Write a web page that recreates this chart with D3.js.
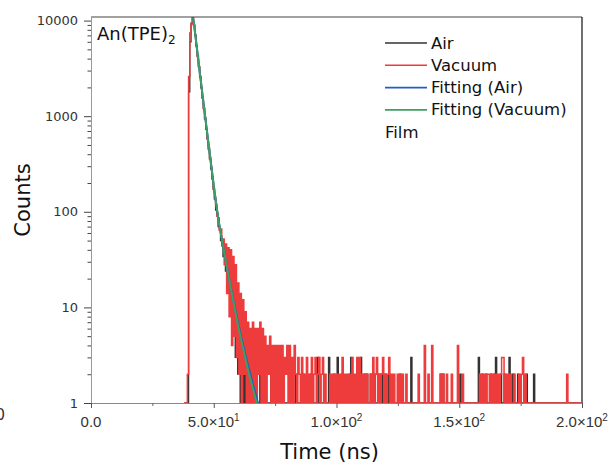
<!DOCTYPE html>
<html>
<head>
<meta charset="utf-8">
<script src="https://cdn.jsdelivr.net/npm/d3@7"></script>
<style>
  body { margin: 0; background: #fff; }
  svg { display: block; font-family: "DejaVu Sans", sans-serif; }
</style>
</head>
<body>
<div class="chart"></div>
<script>
// channel time of the first bin and bin width (ns)
var tStart = 38;
var tStep = 0.5;

// decay histogram, Air (counts per bin)
var airCounts = [
  0, 0, 0, 0, 1800, 6000, 9400, 10800, 9000, 7100, 5500, 4300, 3300, 2550, 1980, 1540, 1200, 930, 730, 575,
  450, 355, 280, 220, 172, 136, 104, 96, 70, 66, 50, 48, 34, 36, 24, 26, 16, 18, 9, 14,
  6, 10, 3, 7, 2, 6, 0, 4, 1, 3, 0, 2, 1, 3, 0, 2, 1, 0, 2, 0,
  1, 0, 2, 1, 0, 1, 2, 0, 1, 0, 1, 2, 0, 1, 0, 3, 0, 1, 0, 1,
  0, 2, 1, 0, 1, 0, 2, 0, 1, 0, 1, 2, 0, 1, 0, 1, 0, 2, 0, 1,
  0, 1, 0, 2, 1, 0, 1, 0, 0, 3, 1, 0, 1, 0, 0, 1, 0, 1, 3, 0,
  1, 0, 2, 0, 1, 3, 0, 1, 0, 2, 1, 0, 1, 0, 0, 2, 3, 0, 1, 0,
  1, 0, 2, 0, 3, 0, 1, 2, 0, 2, 1, 0, 2, 0, 1, 2, 0, 1, 0, 2,
  0, 2, 1, 0, 2, 0, 1, 2, 0, 1, 1, 0, 1, 0, 0, 1, 2, 0, 1, 0,
  1, 0, 0, 1, 0, 3, 0, 1, 0, 1, 1, 0, 0, 1, 0, 1, 0, 0, 1, 0,
  0, 1, 0, 1, 0, 1, 0, 1, 0, 2, 1, 2, 0, 1, 0, 1, 0, 0, 1, 0,
  1, 0, 0, 1, 0, 2, 1, 0, 1, 0, 0, 1, 0, 1, 0, 0, 1, 0, 1, 0,
  3, 0, 1, 2, 0, 1, 2, 0, 1, 0, 2, 1, 0, 2, 3, 0, 1, 0, 2, 0,
  1, 2, 0, 1, 0, 3, 0, 1, 2, 0, 1, 0, 2, 0, 1, 0, 1, 0, 0, 2,
  0, 1, 0, 1, 0, 2, 0, 1, 0, 1, 1, 0, 1, 0, 1, 0, 0, 1, 0, 1,
  0, 1, 0, 0, 1, 0, 1, 1, 0, 1, 0, 0, 1, 1, 0, 1, 0, 1, 1, 0,
  1, 0, 1, 1
];

// decay histogram, Vacuum
var vacuumCounts = [
  0, 0, 0, 2, 2600, 7400, 9200, 10600, 8900, 7000, 5400, 4200, 3300, 2600, 2000, 1570, 1220, 960, 750, 590,
  470, 370, 290, 232, 180, 142, 120, 90, 86, 64, 66, 44, 52, 28, 46, 14, 42, 8, 40, 4,
  34, 5, 28, 3, 18, 2, 14, 0, 12, 2, 9, 0, 7, 1, 6, 0, 7, 1, 6, 0,
  6, 2, 7, 0, 6, 1, 5, 0, 4, 2, 5, 0, 4, 1, 4, 0, 4, 0, 4, 1,
  4, 0, 3, 2, 4, 0, 4, 1, 3, 0, 4, 2, 0, 3, 2, 0, 3, 0, 2, 0,
  3, 0, 2, 0, 3, 0, 2, 3, 0, 2, 3, 0, 2, 3, 0, 2, 0, 1, 0, 2,
  0, 2, 0, 2, 0, 2, 0, 2, 0, 3, 0, 2, 0, 2, 0, 2, 0, 3, 0, 2,
  0, 3, 0, 3, 0, 2, 0, 2, 0, 2, 1, 0, 2, 0, 3, 0, 2, 3, 0, 2,
  0, 2, 3, 0, 2, 0, 2, 3, 0, 2, 0, 2, 1, 0, 2, 0, 2, 0, 2, 0,
  1, 2, 0, 1, 0, 1, 0, 1, 0, 0, 1, 2, 0, 1, 0, 0, 4, 0, 0, 2,
  0, 1, 4, 0, 1, 0, 0, 1, 0, 2, 0, 2, 1, 0, 2, 0, 1, 0, 2, 0,
  1, 0, 1, 4, 0, 1, 0, 2, 0, 1, 0, 0, 1, 0, 0, 1, 0, 1, 0, 1,
  0, 2, 0, 2, 1, 2, 0, 2, 2, 0, 2, 1, 2, 0, 2, 1, 2, 0, 2, 3,
  3, 0, 2, 1, 2, 0, 2, 1, 0, 2, 0, 1, 0, 2, 1, 2, 3, 0, 2, 0,
  1, 0, 1, 0, 0, 1, 0, 0, 1, 0, 0, 1, 0, 1, 0, 0, 1, 0, 0, 1,
  0, 0, 1, 0, 1, 0, 0, 1, 0, 0, 1, 0, 2, 0, 1, 0, 0, 1, 0, 0,
  1, 0, 0, 1
];

// fitted decays
var fitTime = [41.5, 42, 43, 44, 45, 46, 47, 48, 49, 50, 51, 52, 53, 54, 55, 56, 57, 58, 59, 60,
  61, 62, 63, 64, 65, 66, 67, 68, 69, 70];
var fitAir = [10800, 9000, 5500, 3350, 2050, 1260, 780, 485, 300, 188, 120, 80, 57, 41, 29.5, 21.7, 16, 11.8, 8.9, 6.7,
  5.1, 4.0, 3.1, 2.45, 1.95, 1.55, 1.25, 1.0, 0.82, 0.67];
var fitVacuum = [10800, 9000, 5500, 3350, 2050, 1260, 780, 485, 300, 188, 120, 80, 57, 41, 29.5, 21.5, 15.6, 11.5, 8.5, 6.3,
  4.8, 3.7, 2.85, 2.2, 1.75, 1.4, 1.12, 0.9, 0.73, 0.6];

// axes
var xTickValues = [0, 50, 100, 150, 200];
var xTickLabels = ["0.0", "5.0×10^1", "1.0×10^2", "1.5×10^2", "2.0×10^2"];
var xMinorValues = [25, 75, 125, 175];
var yTickValues = [1, 10, 100, 1000, 10000];
var yTickLabels = ["1", "10", "100", "1000", "10000"];

var legendNames = ["Air", "Vacuum", "Fitting (Air)", "Fitting (Vacuum)"];
var legendColors = ["#333333", "#ee3b3b", "#1f5fbf", "#3f9f62"];

var svgWidth = 610, svgHeight = 466;
var margin = { top: 17, right: 28, bottom: 63, left: 91 };
var width = svgWidth - margin.left - margin.right;
var height = svgHeight - margin.top - margin.bottom;

var svg = d3.select(".chart").append("svg")
  .attr("width", svgWidth)
  .attr("height", svgHeight);

var xScale = d3.scaleLinear().domain([0, 200]).range([margin.left, margin.left + width]);
var yScale = d3.scaleLog().domain([1, 10900]).range([margin.top + height, margin.top]);

svg.append("clipPath").attr("id", "plotClip")
  .append("rect")
  .attr("x", margin.left).attr("y", margin.top)
  .attr("width", width).attr("height", height);

var plot = svg.append("g").attr("clip-path", "url(#plotClip)");

// raw histograms drawn as steps so that dense low-count bins fill in
function rawLine(counts) {
  return d3.line()
    .curve(d3.curveStep)
    .x((d, i) => xScale(tStart + i * tStep))
    .y(d => yScale(Math.max(d, 1)))(counts);
}

plot.append("path").attr("d", rawLine(airCounts))
  .attr("fill", "none").attr("stroke", legendColors[0]).attr("stroke-width", 1.3);
plot.append("path").attr("d", rawLine(vacuumCounts))
  .attr("fill", "none").attr("stroke", legendColors[1]).attr("stroke-width", 1.5);

var fitLine = d3.line()
  .x(d => xScale(d[0]))
  .y(d => yScale(d[1]));

plot.append("path").attr("d", fitLine(fitTime.map((t, i) => [t, fitAir[i]])))
  .attr("fill", "none").attr("stroke", legendColors[2]).attr("stroke-width", 2);
plot.append("path").attr("d", fitLine(fitTime.map((t, i) => [t, fitVacuum[i]])))
  .attr("fill", "none").attr("stroke", legendColors[3]).attr("stroke-width", 2);

// frame top / right
svg.append("line")
  .attr("x1", margin.left).attr("x2", margin.left + width)
  .attr("y1", margin.top).attr("y2", margin.top)
  .attr("stroke", "#444").attr("stroke-width", 1.2);
svg.append("line")
  .attr("x1", margin.left + width).attr("x2", margin.left + width)
  .attr("y1", margin.top).attr("y2", margin.top + height)
  .attr("stroke", "#111").attr("stroke-width", 1.2);

// y axis: minor then major ticks
var yMinor = [];
yTickValues.slice(0, -1).forEach(function(v) {
  for (var k = 2; k <= 9; k++) yMinor.push(v * k);
});
svg.append("g")
  .attr("transform", `translate(${margin.left},0)`)
  .call(d3.axisLeft(yScale).tickValues(yMinor).tickSize(3.5).tickSizeOuter(0).tickFormat(""))
  .call(g => g.select(".domain").attr("stroke", "#999"))
  .call(g => g.selectAll(".tick line").attr("stroke", "#444"));
svg.append("g")
  .attr("transform", `translate(${margin.left},0)`)
  .call(d3.axisLeft(yScale).tickValues(yTickValues).tickSize(7).tickSizeOuter(0).tickFormat(""))
  .call(g => g.select(".domain").remove())
  .call(g => g.selectAll(".tick line").attr("stroke", "#444"));

svg.selectAll(".ylab").data(yTickValues).enter().append("text")
  .attr("x", margin.left - 13)
  .attr("y", d => yScale(d))
  .attr("dy", "0.36em")
  .attr("text-anchor", "end")
  .style("font-size", "13px")
  .attr("fill", "#333")
  .text((d, i) => yTickLabels[i]);

// x axis
svg.append("g")
  .attr("transform", `translate(0,${margin.top + height})`)
  .call(d3.axisBottom(xScale).tickValues(xMinorValues).tickSize(3).tickSizeOuter(0).tickFormat(""))
  .call(g => g.select(".domain").attr("stroke", "#888"))
  .call(g => g.selectAll(".tick line").attr("stroke", "#666"));
svg.append("g")
  .attr("transform", `translate(0,${margin.top + height})`)
  .call(d3.axisBottom(xScale).tickValues(xTickValues).tickSize(5).tickSizeOuter(0).tickFormat(""))
  .call(g => g.select(".domain").remove())
  .call(g => g.selectAll(".tick line").attr("stroke", "#555"));

var xLabels = svg.selectAll(".xlab").data(xTickValues).enter().append("text")
  .attr("x", d => xScale(d))
  .attr("y", margin.top + height + 24)
  .attr("text-anchor", "middle")
  .style("font-family", "'Liberation Sans', Arial, sans-serif")
  .style("font-size", "15px")
  .attr("fill", "#333");
xLabels.each(function(d, i) {
  var parts = xTickLabels[i].split("^");
  var t = d3.select(this);
  t.append("tspan").text(parts[0]);
  if (parts[1]) {
    t.append("tspan").attr("dy", -6).style("font-size", "10px").text(parts[1]);
  }
});

// stray clipped label at the far left
svg.append("text").attr("x", 5).attr("y", 420)
  .attr("text-anchor", "end").style("font-size", "15px").attr("fill", "#333").text("0");

// axis titles
svg.append("text")
  .attr("x", (margin.left + margin.left + width) / 2 - 7)
  .attr("y", 459)
  .attr("text-anchor", "middle")
  .style("font-size", "21px")
  .attr("fill", "#111")
  .text("Time (ns)");

svg.append("text")
  .attr("transform", "rotate(-90)")
  .attr("x", -200)
  .attr("y", 30)
  .attr("text-anchor", "middle")
  .style("font-size", "21px")
  .attr("fill", "#111")
  .text("Counts");

// sample label
var sample = svg.append("text")
  .attr("x", 97).attr("y", 40)
  .style("font-size", "18px")
  .attr("fill", "#111");
sample.append("tspan").text("An(TPE)");
sample.append("tspan").attr("dy", 4).style("font-size", "12px").text("2");

// legend
var legend = svg.append("g").attr("transform", "translate(385,43)");
legendNames.forEach(function(name, i) {
  legend.append("line")
    .attr("x1", 0).attr("x2", 42)
    .attr("y1", i * 22.3).attr("y2", i * 22.3)
    .attr("stroke", legendColors[i]).attr("stroke-width", 1.6);
  legend.append("text")
    .attr("x", 46).attr("y", i * 22.3 + 5.5)
    .style("font-size", "16.5px").attr("fill", "#111")
    .text(name);
});
legend.append("text")
  .attr("x", 0).attr("y", 4 * 22.3 + 5.5)
  .style("font-size", "16.5px").attr("fill", "#111")
  .text("Film");
</script>
</body>
</html>
